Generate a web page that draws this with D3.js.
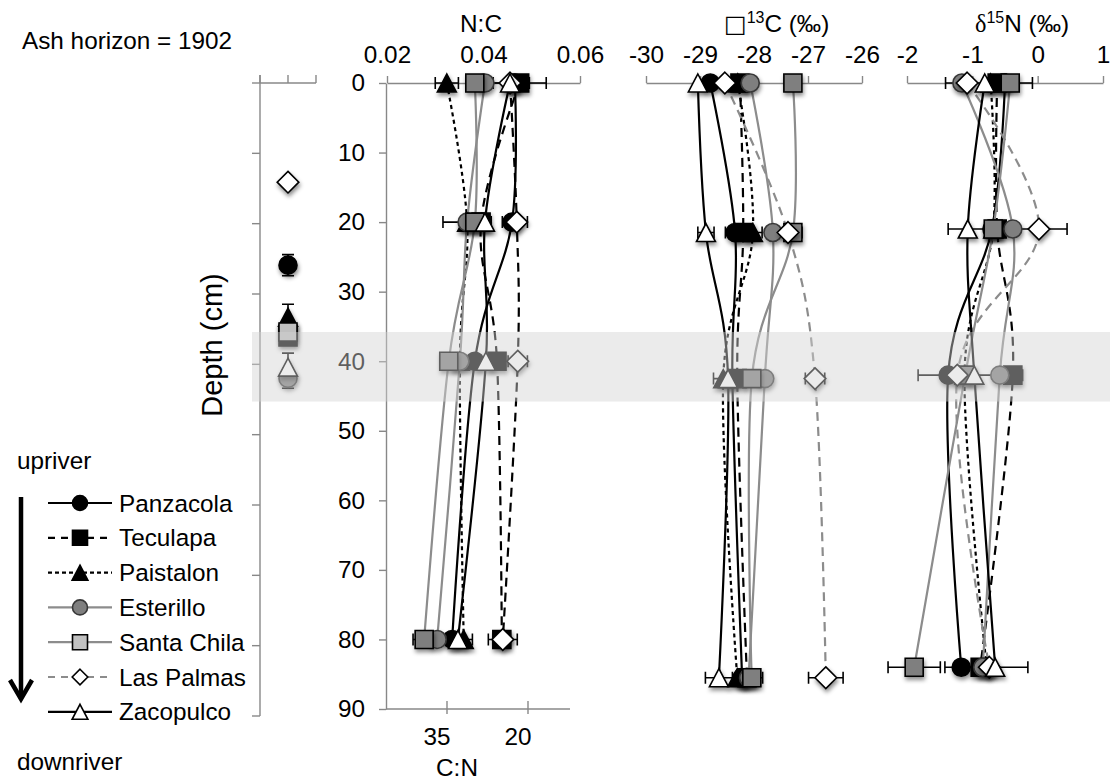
<!DOCTYPE html>
<html><head><meta charset="utf-8">
<script src="https://cdn.jsdelivr.net/npm/d3@7"></script>
<style>body{margin:0;background:#fff;} svg{display:block;} text{font-family:"Liberation Sans",Arial,sans-serif;fill:#000;}</style>
</head><body><svg id="c" width="1110" height="782"></svg>
<script>
// ---------- DATA ----------
const sites = ["Panzacola","Teculapa","Paistalon","Esterillo","Santa Chila","Las Palmas","Zacopulco"];
const ncDepths  = [0, 20, 40, 80];
const c13Depths = [0, 21.5, 42.5, 85.5];
const n15Depths = [0, 21, 42, 84];
const ncValues = [
  [0.0465, 0.0459, 0.0382, 0.0335],
  [0.0475, 0.0395, 0.0428, 0.0438],
  [0.0324, 0.0366, 0.0351, 0.0359],
  [0.0403, 0.0366, 0.0351, 0.0304],
  [0.0382, 0.0382, 0.0328, 0.0277],
  [0.0455, 0.0469, 0.0471, 0.0440],
  [0.0455, 0.0403, 0.0405, 0.0347]
];
const ncErr = [
  [0.001, 0.002, 0, 0],
  [0.0055, 0, 0, 0],
  [0.0024, 0, 0, 0.0018],
  [0, 0.005, 0, 0],
  [0, 0, 0, 0.0023],
  [0.004, 0.0022, 0.002, 0.003],
  [0, 0, 0, 0]
];
const c13Values = [
  [-28.81, -28.35, -28.40, -28.22],
  [-28.26, -28.20, -28.31, -28.13],
  [-28.30, -28.02, -28.57, -28.31],
  [-28.07, -27.65, -27.80, -28.10],
  [-27.28, -27.28, -28.04, -28.04],
  [-28.54, -27.37, -26.87, -26.67],
  [-29.04, -28.89, -28.48, -28.65]
];
const c13Err = [
  [0, 0.18, 0, 0],
  [0, 0, 0, 0],
  [0, 0.17, 0.18, 0],
  [0, 0, 0, 0],
  [0, 0.17, 0, 0.2],
  [0, 0, 0.18, 0.32],
  [0, 0.15, 0, 0.25]
];
const n15Values = [
  [-0.50, -0.70, -1.37, -1.17],
  [-0.62, -0.62, -0.38, -0.88],
  [-0.72, -0.68, -1.12, -0.78],
  [-1.16, -0.38, -0.58, -0.84],
  [-0.42, -0.68, -1.11, -1.89],
  [-1.08,  0.02, -1.23, -0.74],
  [-0.81, -1.07, -0.97, -0.65]
];
const n15Err = [
  [0, 0, 0, 0.25],
  [0, 0, 0.15, 0],
  [0, 0, 0, 0],
  [0, 0, 0, 0],
  [0.34, 0, 0, 0.4],
  [0.33, 0.43, 0.6, 0],
  [0, 0.3, 0, 0.5]
];
const ashDepth = [25.9, 36.1, 33.3, 42.0, 35.4, 14.1, 40.4];
const ashErr   = [1.5, 0, 1.85, 1.4, 0, 0, 2.0];
const ncTicks  = [0.02, 0.04, 0.06];
const c13Ticks = [-30, -29, -28, -27, -26];
const n15Ticks = [-2, -1, 0, 1];
const depthTicks = [0, 10, 20, 30, 40, 50, 60, 70, 80, 90];
const cnTicks = [35, 20];

// ---------- STYLES ----------
const style = [
  {shape:"circle",   fill:"#000",    stroke:"#000",    line:"#000",    dash:null},
  {shape:"square",   fill:"#000",    stroke:"#000",    line:"#000",    dash:"9,6"},
  {shape:"triangle", fill:"#000",    stroke:"#000",    line:"#000",    dash:"4,3.5"},
  {shape:"circle",   fill:"#7f7f7f", stroke:"#383838", line:"#8c8c8c", dash:null},
  {shape:"square",   fill:"#7f7f7f", stroke:"#000",    line:"#8c8c8c", dash:null, legendFill:"#c0c0c0"},
  {shape:"diamond",  fill:"#fff",    stroke:"#000",    line:"#8c8c8c", dash:"9,6"},
  {shape:"triangle", fill:"#fff",    stroke:"#000",    line:"#000",    dash:null}
];
const FONT = 24.3, AXIS = "#888";

const svg = d3.select("#c");
const defs = svg.append("defs");
const f = defs.append("filter").attr("id","sh").attr("x","-50%").attr("y","-50%").attr("width","200%").attr("height","200%");
f.append("feDropShadow").attr("dx",1).attr("dy",3).attr("stdDeviation",2).attr("flood-color","#000").attr("flood-opacity",0.45);

function markerPath(shape, s) {
  const h = s/2;
  if (shape === "circle") return `M${-h},0A${h},${h} 0 1,0 ${h},0A${h},${h} 0 1,0 ${-h},0Z`;
  if (shape === "square") return `M${-h},${-h}H${h}V${h}H${-h}Z`;
  if (shape === "triangle") return `M0,${-h}L${h*1.05},${h}L${-h*1.05},${h}Z`;
  if (shape === "diamond") { const d = h*1.2; return `M0,${-d}L${d},0L0,${d}L${-d},0Z`; }
}

// ---------- SCALES ----------
const yMain = d3.scaleLinear().domain([0, 90]).range([83, 709]);
const yAsh  = d3.scaleLinear().domain([0, 90]).range([83, 716]);
const xAsh  = d3.scaleLinear().domain([0, 2]).range([260, 316]);
const xNC   = d3.scaleLinear().domain([0.02, 0.06]).range([387, 580]);
const xC13  = d3.scaleLinear().domain([-30, -26]).range([646, 862]);
const xN15  = d3.scaleLinear().domain([-2, 1]).range([907, 1103]);
const xCN   = d3.scaleLinear().domain([35, 20]).range([447, 528]);

function styleAxis(g) {
  g.selectAll(".domain").attr("stroke", AXIS).attr("stroke-width", 1.4);
  g.selectAll(".tick line").attr("stroke", AXIS).attr("stroke-width", 1.4);
  g.selectAll(".tick text").attr("font-size", FONT).attr("font-family", '"Liberation Sans",Arial,sans-serif').attr("fill", "#000");
}

// ---------- ASH HORIZON MINI PANEL AXES ----------
const ashAx = svg.append("g");
ashAx.append("line").attr("x1", xAsh(0)).attr("x2", xAsh(0)).attr("y1", 75).attr("y2", yAsh(90)).attr("stroke", AXIS).attr("stroke-width", 1.4);
ashAx.selectAll("line.t").data(depthTicks).join("line").attr("class","t")
  .attr("x1", xAsh(0) - 8).attr("x2", xAsh(0)).attr("y1", d => yAsh(d)).attr("y2", d => yAsh(d))
  .attr("stroke", AXIS).attr("stroke-width", 1.4);
ashAx.append("line").attr("x1", xAsh(0)).attr("x2", xAsh(2)).attr("y1", yAsh(0)).attr("y2", yAsh(0)).attr("stroke", AXIS).attr("stroke-width", 1.4);
ashAx.selectAll("line.u").data([0,1,2]).join("line").attr("class","u")
  .attr("x1", d => xAsh(d)).attr("x2", d => xAsh(d)).attr("y1", yAsh(0) - 8).attr("y2", yAsh(0))
  .attr("stroke", AXIS).attr("stroke-width", 1.4);

// ---------- MAIN AXES ----------
const gy = svg.append("g").attr("transform", "translate(386,0)")
  .call(d3.axisLeft(yMain).tickValues(depthTicks).tickSize(7).tickSizeOuter(0).tickPadding(14).tickFormat(d => String(d)));
styleAxis(gy);

const gNC = svg.append("g").attr("transform", `translate(0,${yMain(0)})`)
  .call(d3.axisTop(xNC).tickValues(ncTicks).tickSize(7).tickSizeOuter(0).tickPadding(13).tickFormat(d3.format(".2f")));
styleAxis(gNC);
const gC13 = svg.append("g").attr("transform", `translate(0,${yMain(0)})`)
  .call(d3.axisTop(xC13).tickValues(c13Ticks).tickSize(7).tickSizeOuter(0).tickPadding(13).tickFormat(d => String(d)));
styleAxis(gC13);
const gN15 = svg.append("g").attr("transform", `translate(0,${yMain(0)})`)
  .call(d3.axisTop(xN15).tickValues(n15Ticks).tickSize(7).tickSizeOuter(0).tickPadding(13).tickFormat(d => String(d)));
styleAxis(gN15);

// bottom C:N axis
const gCN = svg.append("g");
gCN.append("line").attr("x1", 386).attr("x2", 570).attr("y1", yMain(90)).attr("y2", yMain(90)).attr("stroke", AXIS).attr("stroke-width", 1.4);
gCN.selectAll("line.t").data(cnTicks).join("line").attr("class","t")
  .attr("x1", d => xCN(d)).attr("x2", d => xCN(d)).attr("y1", yMain(90) - 8).attr("y2", yMain(90) + 5)
  .attr("stroke", AXIS).attr("stroke-width", 1.4);
gCN.selectAll("text").data(cnTicks).join("text")
  .attr("x", d => xCN(d) - 10).attr("y", 745).attr("text-anchor", "middle").attr("font-size", FONT).text(d => String(d));
svg.append("text").attr("x", 457).attr("y", 776).attr("text-anchor", "middle").attr("font-size", FONT).text("C:N");

// titles
svg.append("text").attr("x", 481).attr("y", 32).attr("text-anchor", "middle").attr("font-size", FONT).text("N:C");
const t13 = svg.append("text").attr("x", 724).attr("y", 32).attr("font-size", FONT);
t13.append("tspan").attr("font-size", 24).attr("font-family", "DejaVu Sans").text("\u25A1");
t13.append("tspan").attr("font-size", 16).attr("dy", -9).text("13");
t13.append("tspan").attr("dy", 9).text("C (\u2030)");
const t15 = svg.append("text").attr("x", 975).attr("y", 32).attr("font-size", FONT);
t15.append("tspan").attr("font-family", '"Liberation Serif",serif').text("\u03B4");
t15.append("tspan").attr("font-size", 16).attr("dy", -9).text("15");
t15.append("tspan").attr("dy", 9).text("N (\u2030)");

svg.append("text").attr("x", 22).attr("y", 49).attr("font-size", FONT).text("Ash horizon = 1902");
svg.append("text").attr("transform", "translate(222,345) rotate(-90)").attr("text-anchor", "middle").attr("font-size", 29).text("Depth (cm)");

// ---------- PANELS ----------
const panels = [
  {vals: ncValues,  err: ncErr,  depths: ncDepths,  x: xNC,  lineOverride: {5: "#000"}},
  {vals: c13Values, err: c13Err, depths: c13Depths, x: xC13, lineOverride: {}},
  {vals: n15Values, err: n15Err, depths: n15Depths, x: xN15, lineOverride: {}}
];
const gLines = svg.append("g"), gErr = svg.append("g"), gMk = svg.append("g");
panels.forEach(p => {
  const line = d3.line().x(d => p.x(d[0])).y(d => yMain(d[1])).curve(d3.curveCatmullRom.alpha(0));
  sites.forEach((s, i) => {
    const pts = p.vals[i].map((v, k) => [v, p.depths[k]]);
    const st = style[i];
    gLines.append("path").attr("d", line(pts)).attr("fill", "none")
      .attr("stroke", p.lineOverride[i] || st.line).attr("stroke-width", 2.2)
      .attr("stroke-dasharray", st.dash);
    pts.forEach((pt, k) => {
      const e = p.err[i][k];
      if (e > 0) {
        const x1 = p.x(pt[0] - e), x2 = p.x(pt[0] + e), y = yMain(pt[1]);
        gErr.append("path").attr("d", `M${x1},${y}H${x2}M${x1},${y-6}V${y+6}M${x2},${y-6}V${y+6}`)
          .attr("stroke", "#000").attr("stroke-width", 1.6).attr("fill", "none");
      }
    });
  });
  sites.forEach((s, i) => {
    const st = style[i];
    p.vals[i].forEach((v, k) => {
      gMk.append("path").attr("d", markerPath(st.shape, 18))
        .attr("transform", `translate(${p.x(v)},${yMain(p.depths[k])})`)
        .attr("fill", st.fill).attr("stroke", st.stroke).attr("stroke-width", 1.6)
        .attr("filter", "url(#sh)");
    });
  });
});

// ash horizon markers
const gAsh = svg.append("g");
sites.forEach((s, i) => {
  const e = ashErr[i], x = xAsh(1);
  if (e > 0) {
    const y1 = yAsh(ashDepth[i] - e), y2 = yAsh(ashDepth[i] + e);
    gAsh.append("path").attr("d", `M${x},${y1}V${y2}M${x-6},${y1}H${x+6}M${x-6},${y2}H${x+6}`)
      .attr("stroke", "#000").attr("stroke-width", 1.6).attr("fill", "none");
  }
});
sites.forEach((s, i) => {
  const st = style[i];
  gAsh.append("path").attr("d", markerPath(st.shape, 18))
    .attr("transform", `translate(${xAsh(1)},${yAsh(ashDepth[i])})`)
    .attr("fill", st.legendFill || st.fill).attr("stroke", st.stroke).attr("stroke-width", 1.6)
    .attr("filter", "url(#sh)");
});

// ash band overlay
svg.append("rect").attr("x", 252).attr("y", yMain(35.8)).attr("width", 858).attr("height", yMain(45.8) - yMain(35.8))
  .attr("fill", "rgb(210,210,210)").attr("fill-opacity", 0.45);

// ---------- LEGEND ----------
svg.append("text").attr("x", 17).attr("y", 469).attr("font-size", FONT).text("upriver");
svg.append("text").attr("x", 17).attr("y", 770).attr("font-size", FONT).text("downriver");
svg.append("line").attr("x1", 21).attr("x2", 21).attr("y1", 497).attr("y2", 697).attr("stroke", "#000").attr("stroke-width", 4.5);
svg.append("path").attr("d", "M10,680L21,699L32,680").attr("fill", "none").attr("stroke", "#000").attr("stroke-width", 4.5).attr("stroke-linejoin", "miter");

const lg = svg.append("g");
sites.forEach((s, i) => {
  const st = style[i], y = 503 + i * 34.8;
  lg.append("line").attr("x1", 48).attr("x2", 112).attr("y1", y).attr("y2", y)
    .attr("stroke", st.line).attr("stroke-width", 2.2).attr("stroke-dasharray", st.dash ? (st.dash === "9,6" ? "7,6" : "4,3") : null);
  lg.append("path").attr("d", markerPath(st.shape, st.shape === "diamond" ? 13 : 15))
    .attr("transform", `translate(80,${y})`)
    .attr("fill", st.legendFill || st.fill).attr("stroke", st.stroke).attr("stroke-width", 1.6);
  lg.append("text").attr("x", 119).attr("y", y + 8.5).attr("font-size", FONT).text(s);
});
</script></body></html>
